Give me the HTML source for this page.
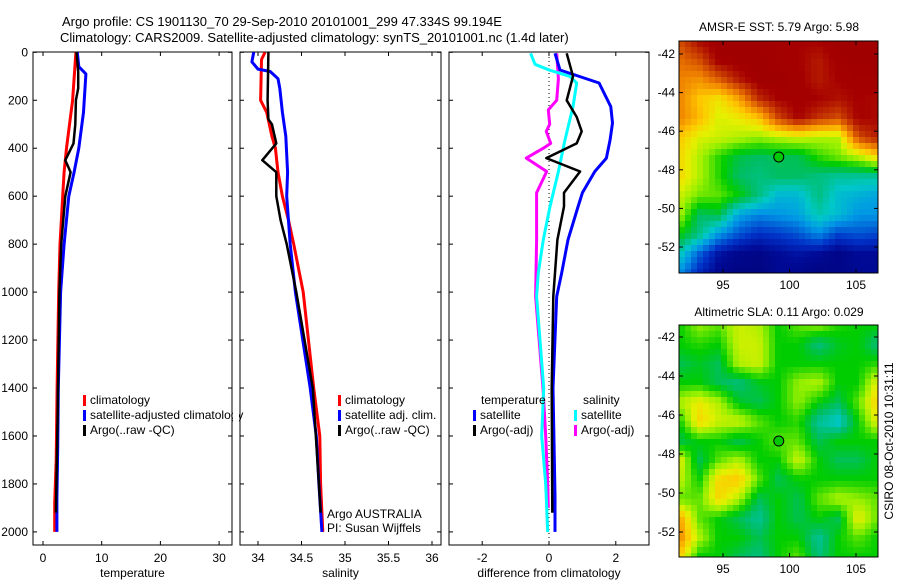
<!DOCTYPE html>
<html><head><meta charset="utf-8">
<style>
html,body{margin:0;padding:0;background:#fff;}
#wrap{position:relative;width:900px;height:580px;overflow:hidden;font-family:"Liberation Sans",sans-serif;}
canvas{position:absolute;image-rendering:pixelated;}
svg{position:absolute;left:0;top:0;}
text{font-family:"Liberation Sans",sans-serif;font-size:12px;fill:#000;}
</style></head>
<body>
<div id="wrap">
<canvas id="sst" style="left:679px;top:41px" width="199" height="232"></canvas>
<canvas id="sla" style="left:679px;top:325px" width="199" height="232"></canvas>
<svg id="fig" width="900" height="580">
<text x="62" y="26" style="font-size:13px">Argo profile: CS 1901130_70 29-Sep-2010 20101001_299 47.334S 99.194E</text>
<text x="60" y="42" style="font-size:13px">Climatology: CARS2009. Satellite-adjusted climatology: synTS_20101001.nc (1.4d later)</text>
<text x="779" y="31" text-anchor="middle">AMSR-E SST: 5.79 Argo: 5.98</text>
<text x="779" y="316" text-anchor="middle">Altimetric SLA: 0.11 Argo: 0.029</text>
<text transform="translate(893,441) rotate(-90)" text-anchor="middle">CSIRO 08-Oct-2010 10:31:11</text>
<g id="g1"></g><g id="g2"></g><g id="g3"></g><g id="gm"></g>
</svg>
</div>
<script>
// ----- data -----
const depthTicks=[0,200,400,600,800,1000,1200,1400,1600,1800,2000];
const tTicks=[0,10,20,30];
const sTicks=[34,34.5,35,35.5,36];
const dTicks=[-2,0,2];
const tClimDepth=[0,200,400,500,600,800,1000,1400,1700,1880,2000];
const tClim=[5.6,5.05,4.0,3.6,3.35,2.9,2.67,2.4,2.25,2.0,2.0];
const tSatDepth=[0,60,90,250,400,500,600,800,1000,1400,1650,1860,2000];
const tSat=[5.85,6.1,7.3,6.9,6.1,5.3,4.4,3.6,3.0,2.6,2.5,2.37,2.37];
const tArgoDepth=[0,80,150,200,300,380,450,500,600,800,1000,1500,1920];
const tArgo=[5.7,6.0,6.0,5.6,5.5,5.2,3.8,4.7,3.8,3.1,2.8,2.5,2.2];
const sClimDepth=[0,30,200,250,350,400,500,600,700,800,1000,1400,1600,1800,2000];
const sClim=[34.08,34.04,34.03,34.10,34.16,34.2,34.23,34.28,34.35,34.41,34.52,34.64,34.71,34.72,34.745];
const sSatDepth=[0,40,70,80,110,150,250,350,500,600,800,1000,1400,1600,1800,2000];
const sSat=[33.95,33.93,34.0,34.14,34.23,34.25,34.28,34.32,34.34,34.33,34.37,34.43,34.6,34.67,34.7,34.735];
const sArgoDepth=[0,200,280,300,380,450,500,600,700,800,1000,1400,1800,1920];
const sArgo=[34.12,34.11,34.12,34.16,34.21,34.05,34.21,34.21,34.26,34.33,34.44,34.63,34.7,34.72];
const dz=[4,74,128,227,295,365,441,497,586,643,782,920,1018,1400,1850,2000];
const dTSat=[0.18,0.33,1.5,1.85,1.9,1.83,1.72,1.37,1.0,0.87,0.57,0.38,0.23,0.12,0.18,0.18];
const dTArgoDepth=[4,100,200,270,330,380,441,497,586,643,782,920,1018,1400,1920];
const dTArgo=[0.53,0.72,0.53,0.83,0.98,0.83,-0.08,0.93,0.45,0.45,0.25,0.18,0.13,0.08,0.1];
const dSSatDepth=[4,50,75,100,128,227,365,497,643,782,920,1018,1400,1600,1800,2000];
const dSSat=[-0.55,-0.42,0.03,0.62,0.83,0.72,0.48,0.28,0.03,-0.17,-0.32,-0.37,-0.16,-0.22,-0.1,-0.04];
const dSArgoDepth=[4,110,200,240,300,330,380,400,441,497,586,782,1018,1400,1600,1800,1900];
const dSArgo=[0.23,0.28,0.23,-0.02,0.02,-0.08,0.05,-0.17,-0.68,-0.07,-0.37,-0.37,-0.4,-0.18,-0.1,-0.04,-0.02];
const mapXTicks=[95,100,105];
const mapYTicks=[-42,-44,-46,-48,-50,-52];
const sstGrid=[
[0.84,0.92,0.95,0.95,0.95,0.94,0.93,0.93,0.95,0.95,0.95],
[0.8,0.84,0.94,0.95,0.95,0.94,0.93,0.9,0.94,0.95,0.95],
[0.78,0.76,0.82,0.9,0.95,0.95,0.94,0.9,0.93,0.94,0.94],
[0.78,0.7,0.66,0.74,0.88,0.93,0.94,0.93,0.91,0.93,0.92],
[0.78,0.72,0.63,0.65,0.7,0.85,0.93,0.87,0.84,0.93,0.92],
[0.7,0.63,0.62,0.6,0.58,0.6,0.62,0.6,0.6,0.84,0.9],
[0.68,0.6,0.52,0.46,0.44,0.45,0.45,0.52,0.56,0.6,0.68],
[0.68,0.6,0.52,0.44,0.42,0.44,0.44,0.42,0.4,0.4,0.4],
[0.62,0.56,0.55,0.5,0.42,0.33,0.33,0.42,0.34,0.32,0.3],
[0.6,0.44,0.46,0.3,0.26,0.28,0.3,0.38,0.34,0.28,0.28],
[0.5,0.42,0.28,0.2,0.15,0.17,0.2,0.26,0.18,0.2,0.18],
[0.38,0.22,0.1,0.06,0.05,0.08,0.1,0.08,0.05,0.08,0.08],
[0.28,0.14,0.06,0.04,0.04,0.07,0.06,0.04,0.05,0.07,0.07]];
const slaGrid=[
[0.5,0.58,0.55,0.62,0.6,0.5,0.55,0.58,0.52,0.5,0.5],
[0.5,0.52,0.5,0.62,0.62,0.5,0.5,0.42,0.48,0.5,0.42],
[0.45,0.48,0.45,0.6,0.62,0.5,0.5,0.5,0.5,0.5,0.52],
[0.5,0.5,0.45,0.42,0.48,0.5,0.58,0.6,0.5,0.5,0.65],
[0.6,0.65,0.6,0.48,0.45,0.5,0.58,0.5,0.45,0.55,0.7],
[0.5,0.68,0.62,0.62,0.55,0.5,0.52,0.4,0.35,0.5,0.65],
[0.45,0.5,0.5,0.45,0.5,0.55,0.55,0.45,0.5,0.5,0.5],
[0.65,0.45,0.55,0.6,0.5,0.5,0.62,0.5,0.45,0.45,0.5],
[0.62,0.5,0.68,0.7,0.55,0.45,0.5,0.5,0.5,0.5,0.5],
[0.55,0.55,0.68,0.6,0.45,0.5,0.45,0.55,0.6,0.58,0.55],
[0.75,0.55,0.5,0.45,0.4,0.5,0.45,0.5,0.45,0.65,0.55],
[0.78,0.6,0.5,0.5,0.45,0.5,0.5,0.4,0.5,0.55,0.5],
[0.7,0.5,0.5,0.45,0.42,0.5,0.55,0.42,0.5,0.5,0.5]];
const argoLon=99.194, argoLat=-47.334;

// ----- helpers -----
const NS='http://www.w3.org/2000/svg';
function mk(tag,attrs,parent){const e=document.createElementNS(NS,tag);for(const k in attrs)e.setAttribute(k,attrs[k]);parent.appendChild(e);return e;}
const Y0=52.3, YS=0.2398;
const yD=d=>Y0+d*YS;
const panels=[
 {g:'g1',x0:33,x1:232,xf:v=>43+v*5.87,ticks:tTicks,fmt:v=>v,label:'temperature',ylab:true},
 {g:'g2',x0:240,x1:441,xf:v=>258+(v-34)*87,ticks:sTicks,fmt:v=>v,label:'salinity',ylab:false},
 {g:'g3',x0:449,x1:649,xf:v=>549+v*33.4,ticks:dTicks,fmt:v=>v<0?'-'+(-v):v,label:'difference from climatology',ylab:false}];
panels.forEach((p,i)=>{
 const g=document.getElementById(p.g);
 const fr=mk('rect',{x:p.x0,y:52,width:p.x1-p.x0,height:493,fill:'none',stroke:'#000','stroke-width':1},g);
 
 
 p.ticks.forEach(t=>{const x=p.xf(t);
  mk('line',{x1:x,x2:x,y1:52,y2:56,stroke:'#000'},g);mk('line',{x1:x,x2:x,y1:545,y2:541,stroke:'#000'},g);
  const tx=mk('text',{x:x,y:562,'text-anchor':'middle'},g);tx.textContent=p.fmt(t);
  
  });
 depthTicks.forEach(d=>{const y=yD(d);
  mk('line',{x1:p.x0,x2:p.x0+4,y1:y,y2:y,stroke:'#000'},g);mk('line',{x1:p.x1,x2:p.x1-4,y1:y,y2:y,stroke:'#000'},g);
  if(p.ylab){const tx=mk('text',{x:28,y:y+4,'text-anchor':'end'},g);tx.textContent=d;
   
   }});
 const xl=mk('text',{x:(p.x0+p.x1)/2,y:577,'text-anchor':'middle'},g);xl.textContent=p.label;
 
 
});
function line(pi,depths,vals,color,w,name){
 const p=panels[pi];const pts=depths.map((d,k)=>p.xf(vals[k]).toFixed(1)+','+yD(d).toFixed(1)).join(' ');
 const e=mk('polyline',{points:pts,fill:'none',stroke:color,'stroke-width':w,'stroke-linejoin':'round'},document.getElementById(p.g));
 
 
}
const zl=mk('line',{x1:549,x2:549,y1:53,y2:544,stroke:'#000','stroke-dasharray':'1,3'},document.getElementById('g3'));


line(0,tClimDepth,tClim,'#f00',3,'temp-climatology-line');
line(0,tSatDepth,tSat,'#00f',3,'temp-satellite-line');
line(0,tArgoDepth,tArgo,'#000',2.5,'temp-argo-line');
line(1,sClimDepth,sClim,'#f00',3,'sal-climatology-line');
line(1,sSatDepth,sSat,'#00f',3,'sal-satellite-line');
line(1,sArgoDepth,sArgo,'#000',2.5,'sal-argo-line');
line(2,dSArgoDepth,dSArgo,'#f0f',3,'diff-sal-argo-line');
line(2,dSSatDepth,dSSat,'#0ff',3,'diff-sal-satellite-line');
line(2,dz,dTSat,'#00f',3,'diff-temp-satellite-line');
line(2,dTArgoDepth,dTArgo,'#000',2.5,'diff-temp-argo-line');

function leg(gid,x,y,color,label){const g=document.getElementById(gid);
 const r=mk('rect',{x:x,y:y-9,width:3,height:11,fill:color},g);
 
 
 const t=mk('text',{x:x+7,y:y},g);t.textContent=label;
 
 }
leg('g1',83,404,'#f00','climatology');leg('g1',83,419,'#00f','satellite-adjusted climatology');leg('g1',83,434,'#000','Argo(..raw -QC)');
leg('g2',338,404,'#f00','climatology');leg('g2',338,419,'#00f','satellite adj. clim.');leg('g2',338,434,'#000','Argo(..raw -QC)');
leg('g3',473,419,'#00f','satellite');leg('g3',473,434,'#000','Argo(-adj)');
leg('g3',574,419,'#0ff','satellite');leg('g3',574,434,'#f0f','Argo(-adj)');
(function(){const g=document.getElementById('g3');
 const a=mk('text',{x:481,y:404},g);a.textContent='temperature';
 const b=mk('text',{x:583,y:404},g);b.textContent='salinity';
 const g2=document.getElementById('g2');
 const c=mk('text',{x:327,y:518},g2);c.textContent='Argo AUSTRALIA';
 const d=mk('text',{x:327,y:532},g2);d.textContent='PI: Susan Wijffels';
})();
(function(){const c=mk('rect',{x:233,y:380,width:6,height:60,fill:'#fff'},document.getElementById('g1'));})();

// ----- maps -----
const stops=[[0,[0,0,110]],[0.08,[0,10,150]],[0.16,[0,50,200]],[0.28,[0,150,230]],[0.36,[0,200,200]],[0.44,[0,190,100]],[0.5,[0,205,0]],[0.58,[150,240,0]],[0.64,[230,240,0]],[0.7,[255,200,0]],[0.78,[240,130,0]],[0.86,[200,60,0]],[0.93,[165,0,0]],[1,[150,0,0]]];
function cmap(v){for(let i=1;i<stops.length;i++){if(v<=stops[i][0]){const a=stops[i-1],b=stops[i],t=(v-a[0])/(b[0]-a[0]);return a[1].map((c,k)=>Math.round(c+(b[1][k]-c)*t));}}return stops[stops.length-1][1];}
function drawMap(id,grid){const cv=document.getElementById(id),ctx=cv.getContext('2d');
 const W=cv.width,H=cv.height,R=grid.length,C=grid[0].length,cs=6;
 for(let y=0;y<H;y+=cs)for(let x=0;x<W;x+=cs){
  const gx=(x+cs/2)/W*(C-1),gy=(y+cs/2)/H*(R-1);
  const i=Math.min(Math.floor(gy),R-2),j=Math.min(Math.floor(gx),C-2),fy=gy-i,fx=gx-j;
  const v=grid[i][j]*(1-fx)*(1-fy)+grid[i][j+1]*fx*(1-fy)+grid[i+1][j]*(1-fx)*fy+grid[i+1][j+1]*fx*fy;
  const c=cmap(v);ctx.fillStyle='rgb('+c+')';ctx.fillRect(x,y,cs,cs);}
}
drawMap('sst',sstGrid);drawMap('sla',slaGrid);
const lonX=l=>723+(l-95)*13.3;
const maps=[{top:41,latY:la=>54+(-42-la)*19.3,name:'sst'},{top:325,latY:la=>337+(-42-la)*19.5,name:'sla'}];
const gm=document.getElementById('gm');
maps.forEach(m=>{
 const fr=mk('rect',{x:679,y:m.top,width:199,height:232,fill:'none',stroke:'#000'},gm);
 
 
 mapXTicks.forEach(t=>{const x=lonX(t);mk('line',{x1:x,x2:x,y1:m.top,y2:m.top+4,stroke:'#000'},gm);mk('line',{x1:x,x2:x,y1:m.top+232,y2:m.top+228,stroke:'#000'},gm);
  const tx=mk('text',{x:x,y:m.top+248,'text-anchor':'middle'},gm);tx.textContent=t;
  
  });
 mapYTicks.forEach(t=>{const y=m.latY(t);mk('line',{x1:679,x2:683,y1:y,y2:y,stroke:'#000'},gm);mk('line',{x1:878,x2:874,y1:y,y2:y,stroke:'#000'},gm);
  const tx=mk('text',{x:675,y:y+4,'text-anchor':'end'},gm);tx.textContent=t;
  
  });
 const c=mk('circle',{cx:lonX(argoLon),cy:m.latY(argoLat),r:5,fill:'#00c800',stroke:'#000'},gm);
 
 
});
</script>
</body></html>
